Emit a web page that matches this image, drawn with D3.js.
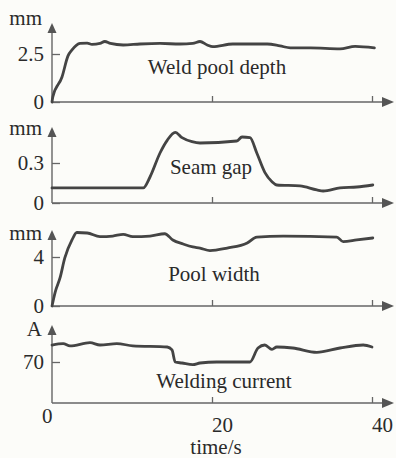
<!DOCTYPE html>
<html>
<head>
<meta charset="utf-8">
<script src="https://cdn.jsdelivr.net/npm/d3@7"></script>
<style>
body { margin: 0; background: #fcfcf9; }
text { font-family: "Liberation Serif", "Times New Roman", serif; fill: #2a2a2a; }
</style>
</head>
<body>
<script>
// weld pool depth, mm
var depthTime = [0, 0.1, 1.25, 2, 2.5, 3.5, 4.4, 5, 6, 6.6, 7.3, 8.9, 11, 13.5, 16, 17.6, 18.5, 19.4, 20.1, 22.6, 26.9, 28.5, 29.8, 32.3, 36, 37.9, 40.3];
var depthVal  = [0, 0.26, 1.3, 2.4, 2.71, 3.05, 3.07, 3.0, 3.05, 3.15, 3.05, 2.97, 3.02, 3.05, 3.02, 3.05, 3.15, 2.97, 2.88, 3.02, 3.02, 2.92, 2.82, 2.82, 2.77, 2.9, 2.82];

// seam gap, mm
var gapTime = [0, 11.4, 12.25, 13.5, 14.4, 15.4, 16.25, 17.5, 18.5, 23.1, 23.75, 24.75, 25.6, 26.6, 27.5, 28.1, 31, 33.1, 33.9, 36, 38.1, 40.1];
var gapVal  = [0.113, 0.113, 0.195, 0.375, 0.47, 0.53, 0.49, 0.46, 0.45, 0.465, 0.495, 0.49, 0.375, 0.23, 0.16, 0.135, 0.128, 0.098, 0.09, 0.113, 0.12, 0.135];

// pool width, mm
var widthTime = [0, 0.4, 1, 1.6, 2.5, 3.1, 4.4, 6, 7.6, 8.9, 10.1, 12.25, 14.1, 15.1, 16.4, 17.6, 18.5, 19.75, 21.9, 24.4, 25.6, 28.9, 35.6, 36.4, 38.1, 40.1];
var widthVal  = [0, 1.14, 2.29, 3.92, 5.39, 6.0, 5.96, 5.66, 5.71, 5.85, 5.66, 5.71, 5.9, 5.39, 5.06, 4.82, 4.73, 4.52, 4.73, 5.14, 5.63, 5.71, 5.63, 5.25, 5.39, 5.55];

// welding current, A
var currentTime = [0, 1.4, 2.25, 4.75, 6, 8.1, 10.1, 14.4, 15, 15.4, 16.25, 17.6, 18.5, 20.6, 24.75, 25.75, 26.6, 27.5, 28.1, 30.1, 33.1, 36, 38.9, 40];
var currentVal  = [99, 101.5, 97.5, 103, 99, 101.5, 97.5, 95.6, 90.5, 70, 68.3, 65.5, 68.3, 70, 70, 93.9, 99, 91.5, 95.6, 93.9, 86.5, 93.9, 99, 95.6];

var panelNames = ["Weld pool depth", "Seam gap", "Pool width", "Welding current"];
var unitLabels = ["mm", "mm", "mm", "A"];
var yTicks = [[0, 2.5], [0, 0.3], [0, 4], [70]];
var xTickLabels = [0, 20, 40];
var xTitle = "time/s";

var series = [
  {t: depthTime, v: depthVal},
  {t: gapTime, v: gapVal},
  {t: widthTime, v: widthVal},
  {t: currentTime, v: currentVal}
];

// pixel layout of each panel: baseline, position of the labelled tick, arrow tip
var layout = [
  {base: 102, tick: 54,  top: 23,  unitY: 25,  nameX: 217, nameY: 74},
  {base: 203, tick: 163, top: 127, unitY: 135, nameX: 211, nameY: 174},
  {base: 306, tick: 257, top: 230, unitY: 240, nameX: 214, nameY: 281},
  {base: 403, tick: 362, top: 325, unitY: 336, nameX: 224, nameY: 388}
];

var width = 396, height = 458, fs = 21;

var svg = d3.select("body").append("svg")
    .attr("width", width)
    .attr("height", height);

var x = d3.scaleLinear().domain([0, 40]).range([52, 372]);
var xEnd = 383, xTip = 394;

series.forEach(function(s, i) {
  var L = layout[i];
  var top = yTicks[i][yTicks[i].length - 1];
  var y = d3.scaleLinear().domain([0, top]).range([L.base, L.tick]);
  var g = svg.append("g");

  // x axis with small upward ticks
  var xa = g.append("g")
      .attr("transform", "translate(0," + L.base + ")")
      .call(d3.axisBottom(x).tickValues([20, 40]).tickSize(-6).tickFormat(""));
  xa.select(".domain").remove();
  xa.selectAll("line").attr("stroke", "#666").attr("stroke-width", 1.3);
  g.append("line")
      .attr("x1", x(0)).attr("x2", xEnd)
      .attr("y1", L.base).attr("y2", L.base)
      .attr("stroke", "#666").attr("stroke-width", 1.4);
  g.append("path")
      .attr("d", "M" + (xEnd - 1) + "," + (L.base - 5) + "L" + xTip + "," + L.base + "L" + (xEnd - 1) + "," + (L.base + 5) + "Z")
      .attr("fill", "#555");

  // y axis
  var ya = g.append("g")
      .attr("transform", "translate(" + x(0) + ",0)")
      .call(d3.axisLeft(y).tickValues(yTicks[i]).tickSize(-8).tickPadding(8)
        .tickFormat(function(d) { return String(d); }));
  ya.attr("font-family", null).attr("font-size", null);
  ya.select(".domain").remove();
  ya.selectAll("line").attr("stroke", "#666").attr("stroke-width", 1.3);
  ya.selectAll("text").attr("font-size", fs);
  g.append("line")
      .attr("x1", x(0)).attr("x2", x(0))
      .attr("y1", L.base).attr("y2", L.top + 9)
      .attr("stroke", "#666").attr("stroke-width", 1.4);
  g.append("path")
      .attr("d", "M" + (x(0) - 4.5) + "," + (L.top + 10) + "L" + x(0) + "," + L.top + "L" + (x(0) + 4.5) + "," + (L.top + 10) + "Z")
      .attr("fill", "#555");

  g.append("text")
      .attr("x", 42).attr("y", L.unitY)
      .attr("text-anchor", "end")
      .attr("font-size", fs)
      .text(unitLabels[i]);

  // data curve
  var line = d3.line()
      .x(function(d, j) { return x(s.t[j]); })
      .y(function(d) { return y(d); })
      .curve(d3.curveMonotoneX);
  g.append("path")
      .datum(s.v)
      .attr("d", line)
      .attr("fill", "none")
      .attr("stroke", "#444")
      .attr("stroke-width", 2.8)
      .attr("stroke-linejoin", "round")
      .attr("stroke-linecap", "round");

  g.append("text")
      .attr("x", L.nameX).attr("y", L.nameY)
      .attr("text-anchor", "middle")
      .attr("font-size", fs)
      .text(panelNames[i]);
});

// time labels under the last panel
svg.selectAll(".xlab")
  .data(xTickLabels)
  .enter().append("text")
    .attr("class", "xlab")
    .attr("x", function(d) { return x(d); })
    .attr("dx", function(d) { return d === 0 ? -10 : 0; })
    .attr("y", function(d) { return d === 0 ? 423 : 432; })
    .attr("font-size", fs)
    .text(function(d) { return d; });

svg.append("text")
    .attr("x", x(20.5)).attr("y", 454)
    .attr("text-anchor", "middle")
    .attr("font-size", fs)
    .text(xTitle);
</script>
</body>
</html>
